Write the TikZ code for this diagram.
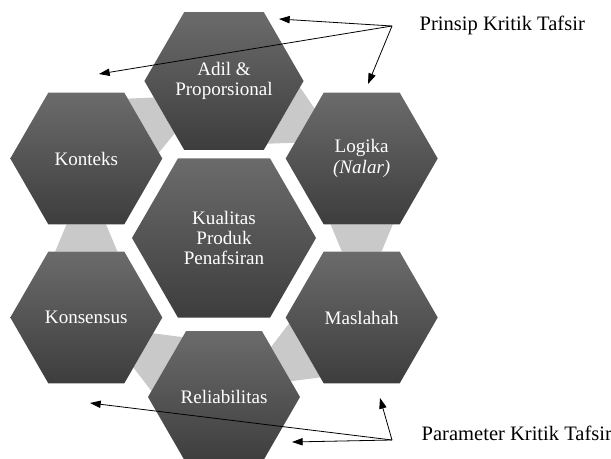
\documentclass[tikz,border=0pt]{standalone}
\usepackage{fontspec}
\setmainfont{Liberation Serif}
\newfontfamily\hurufkita{Liberation Serif}
\usepackage{tikz}
\usetikzlibrary{shapes.geometric,arrows.meta,calc,backgrounds}

\begin{document}
\begin{tikzpicture}[x=0.75pt, y=0.75pt,
  hexa/.style    ={regular polygon, regular polygon sides=6,
                   minimum size=114pt, inner sep=0pt, outer sep=0pt,
                   top color=black!58, bottom color=black!76,
                   text=white, align=center,
                   font=\hurufkita\fontsize{14.3}{15.3}\selectfont},
  inti/.style    ={hexa, minimum size=138pt},
  jembatan/.style={fill=black!21},
  judul/.style   ={anchor=west, font=\hurufkita\fontsize{15.4}{17}\selectfont},
  tunjuk/.style  ={-{Triangle[length=8pt,width=5.5pt]}, line width=0.6pt},
]
\useasboundingbox (0,0) rectangle (611,458);

% === Hexagon cluster ===
\node[inti] (pusat) at (224,220) {Kualitas\\Produk\\Penafsiran};

\node[hexa] (adil)      at ($(pusat)+(90:157)$)  {Adil \&\\Proporsional};
\node[hexa] (logika)    at ($(pusat)+(30:159)$)  {Logika\\\textit{(Nalar)}};
\node[hexa] (maslahah)  at ($(pusat)+(-30:159)$) {Maslahah};
\node[hexa] (reliab)    at ($(pusat)+(-90:159)$) {Reliabilitas};
\node[hexa] (konsensus) at ($(pusat)+(210:159)$) {Konsensus};
\node[hexa] (konteks)   at ($(pusat)+(150:159)$) {Konteks};

% === Bridges between outer hexagons ===
\begin{scope}[on background layer]
\foreach \a/\b/\t in {adil/logika/330, logika/maslahah/270,
                      maslahah/reliab/210, reliab/konsensus/150,
                      konsensus/konteks/90, konteks/adil/30}
{
  \pgfmathtruncatemacro\ap{mod(\t+30,360)}
  \pgfmathtruncatemacro\am{mod(\t+330,360)}
  \pgfmathtruncatemacro\bp{mod(\t+150,360)}
  \pgfmathtruncatemacro\bm{mod(\t+210,360)}
  \fill[jembatan] ($(\a.\ap)!0.09!(\a.\am)$) -- ($(\a.\am)!0.09!(\a.\ap)$)
    -- ($(\b.\bm)!0.24!(\b.\bp)$) -- ($(\b.\bp)!0.24!(\b.\bm)$) -- cycle;
}
\end{scope}

% === Labels ===
\node[judul] (prinsip) at (415,433) {Prinsip Kritik Tafsir};
\node[judul] (param)   at (417,25)  {Parameter Kritik Tafsir};

\coordinate (jp) at (392,432);
\coordinate (jb) at (392,18);

\coordinate (p1) at (279,439);
\coordinate (p2) at (99,384);
\coordinate (p3) at (368,374);
\coordinate (b1) at (380,60);
\coordinate (b2) at (292,16);
\coordinate (b3) at (90,55);

% === Pointers ===
\foreach \t in {p1,p2,p3} \draw[tunjuk] (jp) -- (\t);
\foreach \t in {b1,b2,b3} \draw[tunjuk] (jb) -- (\t);

\end{tikzpicture}
\end{document}
